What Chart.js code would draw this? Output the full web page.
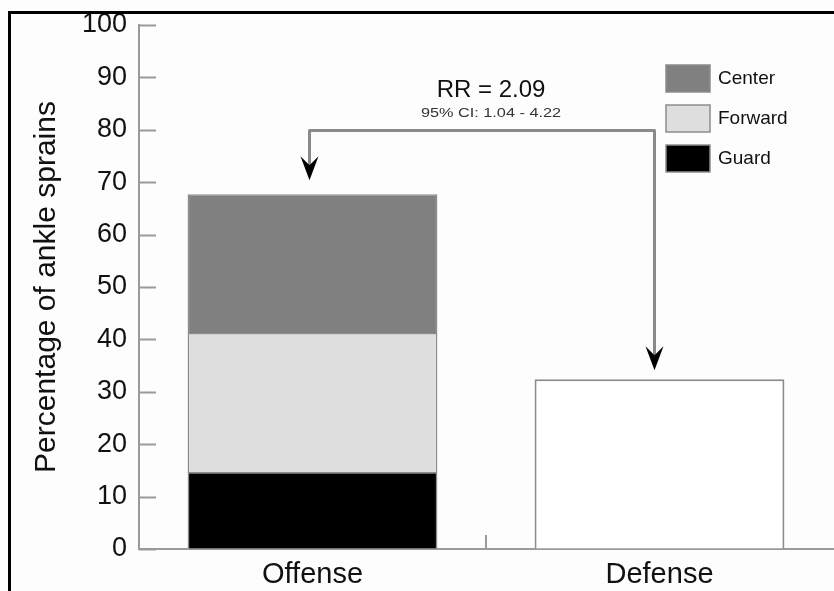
<!DOCTYPE html>
<html>
<head>
<meta charset="utf-8">
<script src="https://cdn.jsdelivr.net/npm/chart.js@4.4.1/dist/chart.umd.min.js"></script>
<style>
  html, body { margin: 0; padding: 0; background: #fff; }
  #wrap { width: 834px; height: 591px; position: relative; }
</style>
</head>
<body>
<div id="wrap"><canvas id="myChart" width="834" height="591"></canvas></div>
<script>
// datos
const groups = ["Offense", "Defense"];
const guard = [14.7, null];
const forward = [26.5, null];
const center = [26.5, null];
const defense = [null, 32.4];
const yTicks = [0, 10, 20, 30, 40, 50, 60, 70, 80, 90, 100];
const yTitle = "Percentage of ankle sprains";
const rrText = "RR = 2.09";
const ciText = "95% CI: 1.04 - 4.22";
const bracketLevel = 80; // altura de la linea que une las flechas

const FONT = "'Liberation Sans', Arial, sans-serif";
const AXIS = '#9a9a9a';

// marco negro alrededor
const framePlugin = {
  id: 'frame',
  beforeDraw(chart) {
    const ctx = chart.ctx;
    ctx.save();
    ctx.fillStyle = '#fdfdfd';
    ctx.fillRect(0, 0, chart.width, chart.height);
    ctx.restore();
  },
  afterDraw(chart) {
    const ctx = chart.ctx;
    ctx.save();
    ctx.strokeStyle = '#000';
    ctx.lineWidth = 3;
    ctx.strokeRect(9.5, 12.5, chart.width + 20, chart.height + 20);
    ctx.restore();
  }
};

// marcas de los ejes hacia adentro
const ticksPlugin = {
  id: 'inTicks',
  afterDraw(chart) {
    const ctx = chart.ctx;
    const x = chart.scales.x, y = chart.scales.y;
    ctx.save();
    ctx.strokeStyle = AXIS;
    ctx.lineWidth = 2;
    ctx.beginPath();
    y.ticks.forEach(t => {
      const py = Math.round(y.getPixelForValue(t.value)) + 0.5;
      ctx.moveTo(x.left, py);
      ctx.lineTo(x.left + 17, py);
    });
    for (let i = 0; i < groups.length - 1; i++) {
      const px = Math.round((x.getPixelForValue(i) + x.getPixelForValue(i + 1)) / 2);
      ctx.moveTo(px, y.bottom);
      ctx.lineTo(px, y.bottom - 14);
    }
    ctx.stroke();
    ctx.restore();
  }
};

// leyenda dibujada a mano (Center, Forward, Guard)
const legendPlugin = {
  id: 'boxLegend',
  afterDraw(chart) {
    const ctx = chart.ctx;
    const items = [2, 1, 0].map(i => chart.data.datasets[i]);
    ctx.save();
    ctx.font = '19px ' + FONT;
    ctx.textBaseline = 'middle';
    items.forEach((ds, k) => {
      const bx = 666, by = 65 + k * 40;
      ctx.fillStyle = ds.backgroundColor;
      ctx.fillRect(bx, by, 44, 27);
      ctx.strokeStyle = '#8c8c8c';
      ctx.lineWidth = 1.5;
      ctx.strokeRect(bx, by, 44, 27);
      ctx.fillStyle = '#111';
      ctx.fillText(ds.label, 718, by + 14);
    });
    ctx.restore();
  }
};

function arrowHead(ctx, x, tipY) {
  ctx.beginPath();
  ctx.moveTo(x, tipY);
  ctx.lineTo(x - 9, tipY - 24);
  ctx.lineTo(x, tipY - 15);
  ctx.lineTo(x + 9, tipY - 24);
  ctx.closePath();
  ctx.fill();
}

// flecha de RR entre Offense y Defense
const bracketPlugin = {
  id: 'bracket',
  afterDatasetsDraw(chart) {
    const ctx = chart.ctx;
    const x = chart.scales.x, y = chart.scales.y;
    const offTop = guard[0] + forward[0] + center[0];
    const defTop = defense[1];
    const x1 = Math.round(x.getPixelForValue(0)) - 4 + 0.5;
    const x2 = Math.round(x.getPixelForValue(1)) - 6 + 0.5;
    const yl = Math.round(y.getPixelForValue(bracketLevel)) + 0.5;
    const tip1 = y.getPixelForValue(offTop) - 14;
    const tip2 = y.getPixelForValue(defTop) - 9;
    ctx.save();
    ctx.strokeStyle = '#8a8a8a';
    ctx.lineWidth = 3;
    ctx.lineJoin = 'round';
    ctx.beginPath();
    ctx.moveTo(x1, tip1 - 10);
    ctx.lineTo(x1, yl);
    ctx.lineTo(x2, yl);
    ctx.lineTo(x2, tip2 - 10);
    ctx.stroke();
    ctx.fillStyle = '#000';
    arrowHead(ctx, x1, tip1);
    arrowHead(ctx, x2, tip2);

    const cx = 491;
    ctx.fillStyle = '#111';
    ctx.textAlign = 'center';
    ctx.textBaseline = 'alphabetic';
    ctx.font = '24px ' + FONT;
    ctx.fillText(rrText, cx, 97);
    ctx.font = '12px ' + FONT;
    const w = ctx.measureText(ciText).width;
    ctx.translate(cx, 117);
    ctx.scale(140 / w, 1);
    ctx.fillStyle = '#333';
    ctx.fillText(ciText, 0, 0);
    ctx.restore();
  }
};

const barBorder = '#8c8c8c';

const myChart = new Chart("myChart", {
  type: "bar",
  data: {
    labels: groups,
    datasets: [
      { label: 'Guard', data: guard, backgroundColor: '#000000', borderColor: barBorder, borderWidth: 1.5 },
      { label: 'Forward', data: forward, backgroundColor: '#dedede', borderColor: barBorder, borderWidth: 1.5 },
      { label: 'Center', data: center, backgroundColor: '#808080', borderColor: barBorder, borderWidth: 1.5 },
      { label: 'Defense', data: defense, backgroundColor: '#ffffff', borderColor: barBorder, borderWidth: 2 }
    ]
  },
  options: {
    responsive: false,
    animation: false,
    devicePixelRatio: 1,
    layout: { padding: { top: 25, right: 1, left: 0, bottom: 0 } },
    plugins: {
      legend: { display: false },
      tooltip: { enabled: false },
      title: { display: false }
    },
    datasets: {
      bar: { barPercentage: 0.72, categoryPercentage: 1, skipNull: true }
    },
    scales: {
      x: {
        stacked: true,
        grid: { drawOnChartArea: false, drawTicks: false },
        border: { color: AXIS, width: 2 },
        ticks: { color: '#111', padding: 9, maxRotation: 0, font: { family: FONT, size: 29 } },
        afterFit(scale) { scale.height = 42; }
      },
      y: {
        stacked: true,
        min: 0,
        max: 100,
        afterBuildTicks(scale) { scale.ticks = yTicks.map(v => ({ value: v })); },
        grid: { drawOnChartArea: false, drawTicks: false },
        border: { color: AXIS, width: 2 },
        ticks: { color: '#111', padding: 12, autoSkip: false, font: { family: FONT, size: 27 } },
        title: {
          display: true,
          text: yTitle,
          color: '#111',
          font: { family: FONT, size: 30 },
          padding: { top: 29, bottom: 0 }
        },
        afterFit(scale) {
          scale.width = 139;
          scale.paddingTop = 0;
          scale.paddingBottom = 0;
        }
      }
    }
  },
  plugins: [framePlugin, ticksPlugin, legendPlugin, bracketPlugin]
});
</script>
</body>
</html>
